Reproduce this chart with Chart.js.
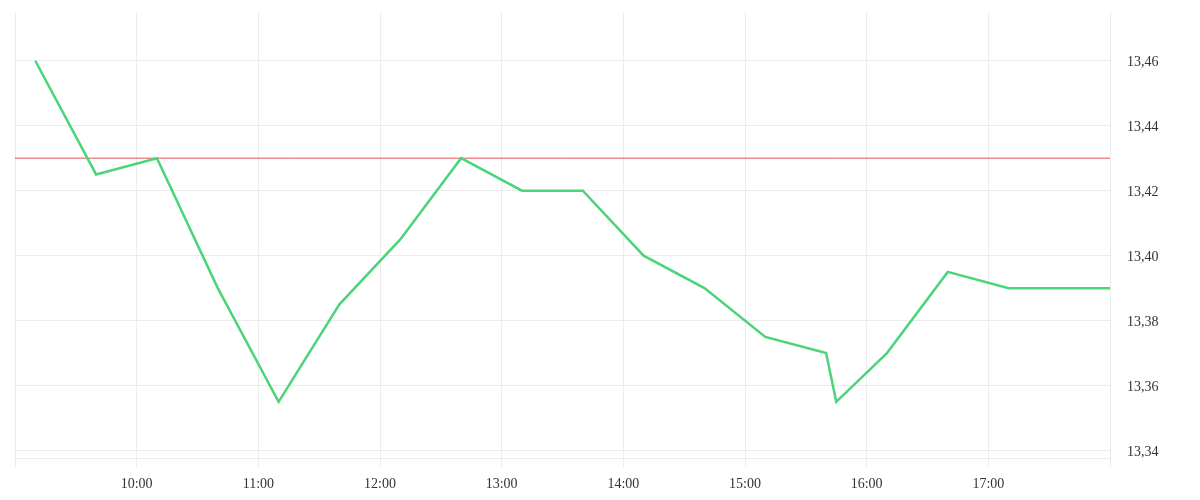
<!DOCTYPE html>
<html>
<head>
<meta charset="utf-8">
<script src="https://cdn.jsdelivr.net/npm/chart.js@4.4.0/dist/chart.umd.min.js"></script>
<style>
  html, body { margin: 0; padding: 0; background: #fff; }
  #wrap { width: 1200px; height: 500px; }
</style>
</head>
<body>
<div id="wrap"><canvas id="myChart" width="1200" height="500"></canvas></div>
<script>
// price readings through the day
const times = ["09:10", "09:40", "10:10", "10:40", "11:10", "11:40", "12:10", "12:40", "13:10",
  "13:40", "14:10", "14:40", "15:10", "15:40", "15:45", "16:10", "16:40", "17:10", "17:40", "18:00"];
const prices = [13.46, 13.425, 13.43, 13.39, 13.355, 13.385, 13.405, 13.43, 13.42,
  13.42, 13.40, 13.39, 13.375, 13.37, 13.355, 13.37, 13.395, 13.39, 13.39, 13.39];
const refLevel = 13.43;
const hourTicks = [9, 10, 11, 12, 13, 14, 15, 16, 17, 18];
const priceTicks = [13.34, 13.36, 13.38, 13.40, 13.42, 13.44, 13.46];

function toHours(s) {
  const p = s.split(":");
  return Number(p[0]) + Number(p[1]) / 60;
}

const gridColor = "#ececec";
const fontSpec = { family: "'Liberation Serif', serif", size: 14 };

const ctx = document.getElementById("myChart");
const myChart = new Chart(ctx, {
  type: "line",
  data: {
    datasets: [
      {
        label: "price",
        data: times.map((t, i) => ({ x: toHours(t), y: prices[i] })),
        borderColor: "#4cd47a",
        borderWidth: 2.5,
        pointRadius: 0,
        tension: 0,
        order: 1,
      },
      {
        label: "ref",
        data: [{ x: hourTicks[0], y: refLevel }, { x: hourTicks[hourTicks.length - 1], y: refLevel }],
        borderColor: "#e05555",
        borderWidth: 1,
        pointRadius: 0,
        order: 2,
      },
    ],
  },
  options: {
    responsive: false,
    animation: false,
    layout: { padding: { left: 15, top: 12, right: 0, bottom: 0 } },
    plugins: { legend: { display: false }, tooltip: { enabled: false } },
    scales: {
      x: {
        type: "linear",
        min: 9,
        max: 18,
        afterBuildTicks: (axis) => { axis.ticks = hourTicks.map((v) => ({ value: v })); },
        afterFit: (axis) => { axis.height = 41.3; axis.paddingLeft = 0; axis.paddingRight = 0; },
        grid: { color: gridColor, tickLength: 8 },
        border: { color: gridColor },
        ticks: {
          font: fontSpec,
          color: "#333",
          padding: 9,
          maxRotation: 0,
          autoSkip: false,
          callback: (v) => (v === 9 || v === 18 ? "" : v + ":00"),
        },
      },
      y: {
        position: "right",
        min: 13.3375,
        max: 13.475,
        afterBuildTicks: (axis) => { axis.ticks = priceTicks.map((v) => ({ value: v })); },
        afterFit: (axis) => { axis.width = 90; axis.paddingTop = 0; axis.paddingBottom = 0; },
        grid: { color: gridColor, drawTicks: false },
        border: { color: gridColor },
        ticks: {
          font: fontSpec,
          color: "#333",
          padding: 17,
          labelOffset: 2,
          autoSkip: false,
          callback: (v) => v.toFixed(2).replace(".", ","),
        },
      },
    },
  },
});
</script>
</body>
</html>
